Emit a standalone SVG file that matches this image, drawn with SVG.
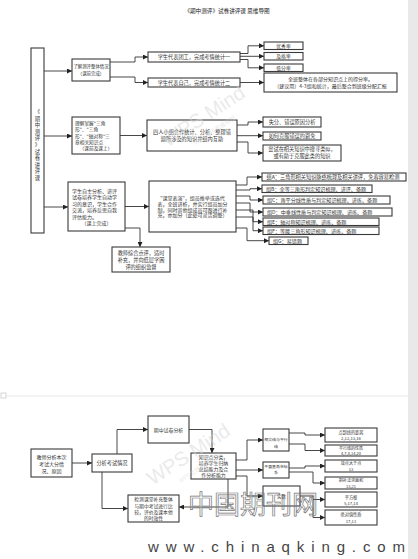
<svg xmlns="http://www.w3.org/2000/svg" width="418" height="559" viewBox="0 0 418 559">
<defs>
<marker id="ah" viewBox="0 0 10 10" refX="10" refY="5" markerWidth="6" markerHeight="5" markerUnits="userSpaceOnUse" orient="auto"><path d="M0,0 L10,5 L0,10 z" fill="#222"/></marker>
<style>
.b{fill:#fff;stroke:#3a3a3a;stroke-width:1.1}
.t{font-family:"Noto Sans CJK SC","Noto Sans",sans-serif;font-size:5.2px;fill:#333;text-anchor:middle}
.s{text-anchor:start}
.c{fill:none;stroke:#333;stroke-width:0.9;marker-end:url(#ah)}
.wm{font-family:"Liberation Sans",sans-serif;fill:#d8d8d8;fill-opacity:0.55;text-anchor:middle}
</style>
</defs>
<rect width="418" height="559" fill="#fff"/>
<rect x="408" y="0" width="10" height="559" fill="#e9e9e9"/>
<text class="t" x="227" y="13" style="font-size:5.6px;fill:#222">《期中测评》试卷讲评课  思维导图</text>

<g id="connectors">
<path class="c" d="M44,71 H72"/>
<path class="c" d="M44,136 H72"/>
<path class="c" d="M44,207 H68"/>
<path class="c" d="M110,62 H135 V57 H148"/>
<path class="c" d="M110,77 H135 V82.5 H148"/>
<path class="c" d="M240,53.5 H248 V45.8 H264"/>
<path class="c" d="M240,56.3 H264"/>
<path class="c" d="M240,59.5 H248 V67.8 H264"/>
<path class="c" d="M240,82.5 H264"/>
<path class="c" d="M120,135.5 H147"/>
<path class="c" d="M237,125 H248 V122 H263"/>
<path class="c" d="M237,135.7 H263"/>
<path class="c" d="M237,142 H248 V153 H263"/>
<path class="c" d="M125,206.5 H149"/>
<path class="c" d="M125,228 H140 V247"/>
<path class="c" d="M236,185 H247 V177 H262"/>
<path class="c" d="M236,190 H250 V188.7 H262"/>
<path class="c" d="M236,196 H250 V200 H263"/>
<path class="c" d="M236,203 H250 V212 H263"/>
<path class="c" d="M236,210 H253 V221.7 H263"/>
<path class="c" d="M236,217 H253 V230.7 H263"/>
<path class="c" d="M236,228 H247 V240.7 H269"/>
<path class="c" d="M72,463 H92"/>
<path class="c" d="M117,454 V429.5 H148"/>
<path class="c" d="M102,472 V508.5 H128"/>
<path class="c" d="M189,429.5 H212 V453"/>
<path class="c" d="M228,479 V507 H179"/>
<path class="c" d="M236,460 H247 V440 H263"/>
<path class="c" d="M236,470 H263"/>
<path class="c" d="M236,476 H247 V496 H263"/>
<path class="c" d="M289,433 H305 V435 H325"/>
<path class="c" d="M289,444 H305 V450.5 H325"/>
<path class="c" d="M289,468 H305 V466 H325"/>
<path class="c" d="M289,472 H313 V483 H325"/>
<path class="c" d="M300,496 H313 V499.5 H325"/>
<path class="c" d="M313,499.5 V517.5 H325"/>
</g>

<g id="root"><rect class="b" x="31" y="48" width="13" height="185"/>
<text class="t" style="font-size:5.3px"><tspan x="37.5" y="114">《</tspan><tspan x="37.5" y="120.6">期</tspan><tspan x="37.5" y="127.2">中</tspan><tspan x="37.5" y="133.8">测</tspan><tspan x="37.5" y="140.4">评</tspan><tspan x="37.5" y="147">》</tspan><tspan x="37.5" y="153.6">试</tspan><tspan x="37.5" y="160.2">卷</tspan><tspan x="37.5" y="166.8">讲</tspan><tspan x="37.5" y="173.4">评</tspan><tspan x="37.5" y="180">课</tspan></text></g>

<g id="n1"><rect class="b" x="72" y="59" width="38" height="22"/>
<text class="t" x="91" y="68.2" style="font-size:4.4px">了解测评整体情况</text>
<text class="t" x="91" y="75.2" style="font-size:4.4px">（课前完成）</text></g>
<g id="n1a"><rect class="b" x="148" y="52" width="92" height="10"/><text class="t" x="194" y="59">学生代表团工，完成考情统计一</text></g>
<g id="n1b"><rect class="b" x="148" y="78" width="92" height="9"/><text class="t" x="194" y="84.5">学生代表自己，完成考情统计二</text></g>
<g id="n1a1"><rect class="b" x="264" y="42" width="39" height="7.5"/><text class="t" x="283.5" y="47.5" style="font-size:4.8px">优秀率</text></g>
<g id="n1a2"><rect class="b" x="264" y="52.5" width="39" height="7.5"/><text class="t" x="283.5" y="58" style="font-size:4.8px">及格率</text></g>
<g id="n1a3"><rect class="b" x="264" y="64" width="39" height="7.5"/><text class="t" x="283.5" y="69.5" style="font-size:4.8px">低分率</text></g>
<g id="n1b1"><rect class="b" x="264" y="73" width="133" height="19"/>
<text class="t" x="330.5" y="81.4" style="font-size:5px">全班整体在各部分知识点上的得分率。</text>
<text class="t" x="330.5" y="88" style="font-size:5px">（建议用）4-3组和统计，最后整合到班级分配汇报</text></g>

<g id="n2"><rect class="b" x="72" y="117" width="48" height="37"/>
<text class="t s" x="75" y="125" style="font-size:4.7px">理解掌握"三角</text>
<text class="t s" x="75" y="131.3" style="font-size:4.7px">形"、"三角</text>
<text class="t s" x="75" y="137.6" style="font-size:4.7px">形"、"轴对称"三</text>
<text class="t s" x="75" y="143.9" style="font-size:4.7px">章相关知识点</text>
<text class="t" x="96" y="150.2" style="font-size:4.7px">（课前及课上）</text></g>
<g id="n2a"><rect class="b" x="147" y="120" width="90" height="31"/>
<text class="t" x="192" y="134">四人小组合作统计、分析、整理错</text>
<text class="t" x="192" y="141">题所涉及的知识并组内互助</text></g>
<g id="n2a1"><rect class="b" x="263" y="117" width="58" height="10"/><text class="t" x="292" y="124">失分、错误原因分析</text></g>
<g id="n2a2"><rect class="b" x="263" y="132" width="58" height="8"/><text class="t" x="292" y="137.8">如何克服错误的避免</text></g>
<g id="n2a3"><rect class="b" x="263" y="145" width="78" height="16"/>
<text class="t" x="302" y="151.3">尝试在相关知识中搜寻类似，</text>
<text class="t" x="302" y="157.7">或有助于克服此类的知识</text></g>

<g id="n3"><rect class="b" x="68" y="182" width="57" height="49"/>
<text class="t s" x="72" y="192.5" style="font-size:5px">学生自主分析、讲评</text>
<text class="t s" x="72" y="199" style="font-size:5px">试卷培养学生自动学</text>
<text class="t s" x="72" y="205.5" style="font-size:5px">习的意识，学生合作</text>
<text class="t s" x="72" y="212" style="font-size:5px">交流，培养反思自我</text>
<text class="t s" x="72" y="218.5" style="font-size:5px">评估能力。</text>
<text class="t" x="96.5" y="225" style="font-size:5px">（课上完成）</text></g>
<g id="n3a"><rect class="b" x="149" y="181" width="87" height="51"/>
<text class="t" x="192.5" y="200.3" style="font-size:5px">"课堂表演"，组员推举或选代</text>
<text class="t" x="192.5" y="206" style="font-size:5px">表，全班讲析，并实行组员加分</text>
<text class="t" x="192.5" y="211.5" style="font-size:5px">制，同时其他组成员可跟进行补</text>
<text class="t" x="192.5" y="217.2" style="font-size:5px">充，亦加分（此处可灵活调整）</text></g>
<g id="n3b"><rect class="b" x="112" y="247" width="58" height="25"/>
<text class="t" x="141" y="254.5">教师综合点评，适时</text>
<text class="t" x="141" y="261.5">补充，并向低层学困</text>
<text class="t" x="141" y="268.5">评的组织监督</text></g>
<g id="gA"><rect class="b" x="262" y="173" width="144" height="8"/><text class="t s" x="266.5" y="179" style="font-size:5.2px">组A：三角形相关知识脉络梳理及相关讲评，免春容易检测</text></g>
<g id="gB"><rect class="b" x="262" y="185" width="110" height="7.5"/><text class="t s" x="266" y="190.8" style="font-size:5.1px">组B：全等三角形判定知识梳理、讲评、备题</text></g>
<g id="gC"><rect class="b" x="263" y="196" width="127" height="8"/><text class="t s" x="267" y="202" style="font-size:5.1px">组C：角平分线性质与判定知识梳理、讲练、备题</text></g>
<g id="gD"><rect class="b" x="263" y="208" width="129" height="8"/><text class="t s" x="267" y="214" style="font-size:5.1px">组D：中垂线性质与判定知识梳理、讲练、备题</text></g>
<g id="gE"><rect class="b" x="263" y="218" width="116" height="7.5"/><text class="t s" x="267" y="223.8" style="font-size:5.1px">组E：轴对称知识梳理、讲练、备题</text></g>
<g id="gF"><rect class="b" x="263" y="227" width="116" height="7.5"/><text class="t s" x="267" y="232.8" style="font-size:5.1px">组F：等腰三角形知识梳理、讲练、备题</text></g>
<g id="gG"><rect class="b" x="269" y="237" width="39" height="7.5"/><text class="t s" x="273" y="242.8" style="font-size:5.1px">组G：易错题</text></g>

<rect x="1" y="393" width="5" height="5" fill="none" stroke="#bbb" stroke-width="0.6"/>
<line x1="6" y1="396" x2="408" y2="396" stroke="#ddd" stroke-width="0.7"/>

<g id="b1"><rect class="b" x="31" y="449" width="41" height="28"/>
<text class="t" x="51.5" y="459.3" style="font-size:5px">教师分析本次</text>
<text class="t" x="51.5" y="466" style="font-size:5px">考试大分情</text>
<text class="t" x="51.5" y="472.5" style="font-size:5px">况、原因</text></g>
<g id="b2"><rect class="b" x="92" y="454" width="40" height="18"/><text class="t" x="112" y="465">分析考试情况</text></g>
<g id="b3"><rect class="b" x="148" y="416" width="41" height="27"/><text class="t" x="168.5" y="431.5" style="font-size:4.9px">期中试卷分析</text></g>
<g id="b4"><rect class="b" x="191" y="453" width="45" height="26"/>
<text class="t" x="213.5" y="459" style="font-size:4.9px">知识点分类，</text>
<text class="t" x="213.5" y="465" style="font-size:4.9px">培养学生归纳</text>
<text class="t" x="213.5" y="471" style="font-size:4.9px">总结能力及合</text>
<text class="t" x="213.5" y="477" style="font-size:4.9px">作分析能力</text></g>
<g id="b5"><rect class="b" x="128" y="495" width="51" height="27"/>
<text class="t" x="153.5" y="501.3" style="font-size:4.8px">检测课堂补充整体</text>
<text class="t" x="153.5" y="507.8" style="font-size:4.8px">与期中考试进行比</text>
<text class="t" x="153.5" y="514" style="font-size:4.8px">较，评价及课本他</text>
<text class="t" x="153.5" y="520.3" style="font-size:4.8px">的时效性</text></g>
<g id="k1"><rect class="b" x="263" y="429" width="26" height="22"/>
<text class="t" x="276" y="441" style="font-size:3.9px">相交线与平行</text>
<text class="t" x="276" y="448" style="font-size:3.9px">线</text></g>
<g id="k2"><rect class="b" x="263" y="462" width="26" height="16"/>
<text class="t" x="276" y="467.5" style="font-size:3.9px">平面直角坐标</text>
<text class="t" x="276" y="474" style="font-size:3.9px">系</text></g>
<g id="k3"><rect class="b" x="263" y="486" width="37" height="20"/><text class="t" x="281.5" y="497.8" style="font-size:4.4px">实数</text></g>
<g id="r1"><rect class="b" x="325" y="428" width="52" height="14"/>
<text class="t" x="351" y="433.8" style="font-size:4.2px">点到线的距离</text><text class="t" x="351" y="439.8" style="font-size:4.2px">2,12,13,16</text></g>
<g id="r2"><rect class="b" x="325" y="445" width="52" height="11"/>
<text class="t" x="351" y="449.8" style="font-size:4px">平行线的性质</text><text class="t" x="351" y="455" style="font-size:4px">4,7,8,14,20</text></g>
<g id="r3"><rect class="b" x="325" y="460" width="52" height="12"/>
<text class="t" x="351" y="465.2" style="font-size:4.1px">效点大于点</text><text class="t" x="351" y="470.8" style="font-size:4.1px">13</text></g>
<g id="r4"><rect class="b" x="325" y="477" width="52" height="12"/>
<text class="t" x="351" y="482.3" style="font-size:4.1px">割补法求面积</text><text class="t" x="351" y="487.9" style="font-size:4.1px">13,21</text></g>
<g id="r5"><rect class="b" x="325" y="492" width="52" height="15"/>
<text class="t" x="351" y="498.5" style="font-size:4.2px">平方根</text><text class="t" x="351" y="505" style="font-size:4.2px">5,17,18</text></g>
<g id="r6"><rect class="b" x="325" y="510" width="52" height="15"/>
<text class="t" x="351" y="516" style="font-size:4.2px">绝对值性质</text><text class="t" x="351" y="522.5" style="font-size:4.2px">17,11</text></g>

<g id="watermarks">
<text class="wm" transform="translate(207,122) rotate(-33)" style="font-size:20px">WPS Mind</text>
<text class="wm" transform="translate(216,132) rotate(-33)" style="font-size:6px;font-family:'Noto Sans CJK SC',sans-serif">WPS文档思维导图</text>
<text class="wm" transform="translate(192,460) rotate(-33)" style="font-size:20px">WPS Mind</text>
<text class="wm" transform="translate(201,470) rotate(-33)" style="font-size:6px;font-family:'Noto Sans CJK SC',sans-serif">WPS文档思维导图</text>
<text x="188" y="514" style="font-family:'Noto Sans CJK SC',sans-serif;font-size:26px;fill:none;stroke:#777;stroke-width:0.7">中国期刊网</text>
<text x="148" y="552" textLength="257" lengthAdjust="spacing" style="font-family:'Liberation Sans',sans-serif;font-size:15px;fill:#444">www.chinaqking.com</text>
</g>
</svg>
